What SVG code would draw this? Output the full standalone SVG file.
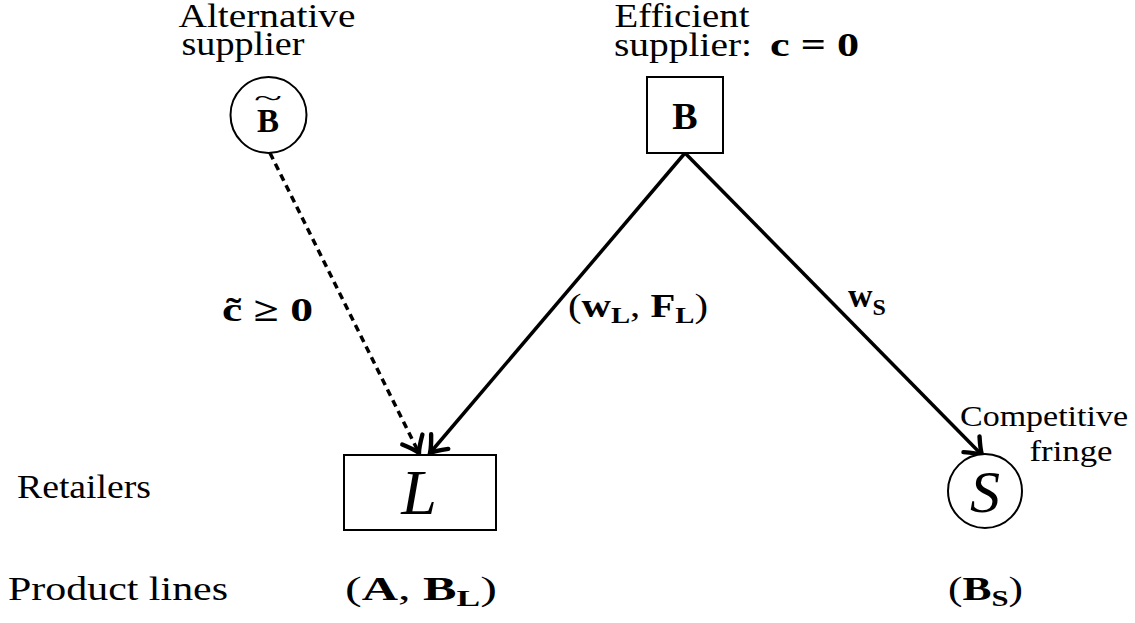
<svg xmlns="http://www.w3.org/2000/svg" width="1135" height="623" viewBox="0 0 1135 623">
<style>
text{font-family:"Liberation Serif","DejaVu Serif","Times New Roman",serif;fill:#000}
.b{font-weight:bold}
.it{font-style:italic}
.node{fill:#fff;stroke:#000;stroke-width:2}
.edge{fill:none;stroke:#000;stroke-width:3.5}
.dash{stroke-dasharray:7 5}
</style>
<defs>
<marker id="arr" markerUnits="userSpaceOnUse" markerWidth="30" markerHeight="30" viewBox="-16 -12 20 24" refX="0" refY="0" orient="auto">
<path d="M-12,-9 Q-4,-2 0,0 Q-4,2 -12,9" fill="none" stroke="#000" stroke-width="3.5" stroke-linecap="round"/>
</marker>
</defs>
<rect width="1135" height="623" fill="#fff"/>
<g id="connectors">
<line class="edge dash" x1="270" y1="153" x2="419" y2="453" marker-end="url(#arr)"/>
<line class="edge" x1="685" y1="153" x2="430" y2="453" marker-end="url(#arr)"/>
<line class="edge" x1="685" y1="153" x2="982" y2="455" marker-end="url(#arr)"/>
<text x="222" y="321" font-size="34" class="b" textLength="91" lengthAdjust="spacingAndGlyphs">c̃ ≥ 0</text>
<text x="568" y="317" font-size="34" textLength="140" lengthAdjust="spacingAndGlyphs">(<tspan class="b">w</tspan><tspan class="b" font-size="24" dy="6">L</tspan><tspan dy="-6">, </tspan><tspan class="b">F</tspan><tspan class="b" font-size="24" dy="6">L</tspan><tspan dy="-6">)</tspan></text>
<text x="848" y="307" font-size="34" class="b">w<tspan font-size="24" dy="8">S</tspan></text>
</g>
<g id="alt-supplier">
<text x="267" y="27" font-size="33" text-anchor="middle" textLength="177" lengthAdjust="spacingAndGlyphs">Alternative</text>
<text x="243" y="55" font-size="33" text-anchor="middle" textLength="123" lengthAdjust="spacingAndGlyphs">supplier</text>
<circle class="node" cx="268.5" cy="115" r="38"/>
<text x="268" y="132" font-size="33" class="b" text-anchor="middle">B</text>
<text x="268" y="106" font-size="26" text-anchor="middle" textLength="28" lengthAdjust="spacingAndGlyphs">~</text>
</g>
<g id="efficient-supplier">
<text x="682" y="27" font-size="33" text-anchor="middle" textLength="135" lengthAdjust="spacingAndGlyphs">Efficient</text>
<text x="614" y="56" font-size="33" textLength="138" lengthAdjust="spacingAndGlyphs">supplier:</text>
<text x="770" y="56" font-size="34" class="b" textLength="89" lengthAdjust="spacingAndGlyphs">c = 0</text>
<rect class="node" x="647" y="77" width="76" height="76"/>
<text x="685" y="129" font-size="38" class="b" text-anchor="middle">B</text>
</g>
<g id="retailer-L">
<rect class="node" x="344" y="455" width="152" height="75" stroke-width="1.5"/>
<text x="419" y="514" font-size="64" class="it" text-anchor="middle">L</text>
</g>
<g id="retailer-S">
<circle class="node" cx="985" cy="491" r="37"/>
<text x="985" y="512" font-size="60" class="it" text-anchor="middle">S</text>
<text x="1044" y="426" font-size="30" text-anchor="middle" textLength="168" lengthAdjust="spacingAndGlyphs">Competitive</text>
<text x="1071" y="461" font-size="30" text-anchor="middle" textLength="83" lengthAdjust="spacingAndGlyphs">fringe</text>
</g>
<g id="labels">
<text x="17" y="498" font-size="33" textLength="134" lengthAdjust="spacingAndGlyphs">Retailers</text>
<text x="8" y="600" font-size="33" textLength="220" lengthAdjust="spacingAndGlyphs">Product lines</text>
<text x="345" y="600" font-size="34" textLength="152" lengthAdjust="spacingAndGlyphs">(<tspan class="b">A</tspan>, <tspan class="b">B</tspan><tspan class="b" font-size="24" dy="6">L</tspan><tspan dy="-6">)</tspan></text>
<text x="948" y="600" font-size="34" textLength="75" lengthAdjust="spacingAndGlyphs">(<tspan class="b">B</tspan><tspan class="b" font-size="24" dy="6">S</tspan><tspan dy="-6">)</tspan></text>
</g>
</svg>
